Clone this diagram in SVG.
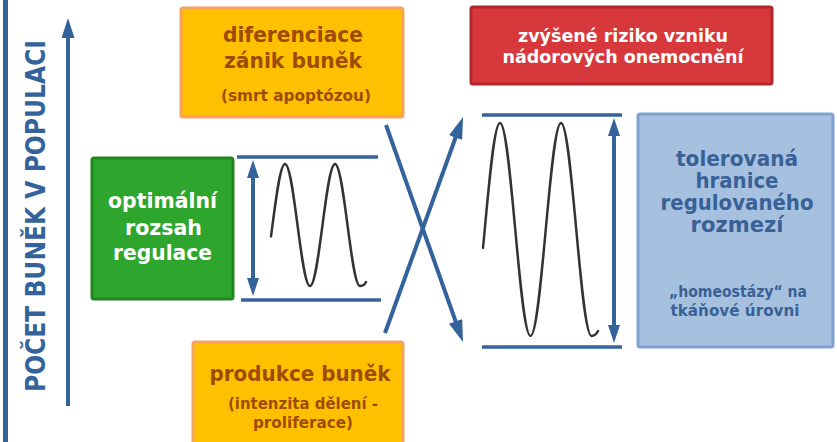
<svg xmlns="http://www.w3.org/2000/svg" width="837" height="442" viewBox="0 0 837 442">
  <style>
    text { font-family: "DejaVu Sans", "Noto Sans", sans-serif; font-weight: bold; text-anchor: middle; }
    .blue-line { stroke: #34639B; stroke-width: 4; fill: none; }
    .bound { stroke: #34639B; stroke-width: 3.5; fill: none; }
    .wave { stroke: #333333; stroke-width: 2.5; fill: none; stroke-linecap: round; }
    .orange { fill: #FFC000; stroke: #F7A25E; stroke-width: 3; }
    .orange-t { fill: #9E4C04; }
    .green { fill: #2EA62E; stroke: #22861F; stroke-width: 3; }
    .red { fill: #D7383B; stroke: #B1282C; stroke-width: 3; }
    .lightblue { fill: #A6C0E0; stroke: #7FA2D2; stroke-width: 3; }
    .blue-t { fill: #3A6195; }
    .white-t { fill: #FFFFFF; }
  </style>
  <defs>
    <marker id="head-axis" markerUnits="userSpaceOnUse" markerWidth="20" markerHeight="13" refX="13" refY="6.5" orient="auto-start-reverse">
      <path d="M0,0 L20,6.5 L0,13 z" fill="#34639B"/>
    </marker>
    <marker id="head-range" markerUnits="userSpaceOnUse" markerWidth="18" markerHeight="12" refX="12" refY="6" orient="auto-start-reverse">
      <path d="M0,0 L18,6 L0,12 z" fill="#34639B"/>
    </marker>
    <marker id="head-cross" markerUnits="userSpaceOnUse" markerWidth="22" markerHeight="14" refX="14" refY="7" orient="auto-start-reverse">
      <path d="M0,0 L22,7 L0,14 z" fill="#34639B"/>
    </marker>
  </defs>

  <!-- left edge bar -->
  <rect x="3" y="0" width="5" height="442" fill="#34639B"/>

  <!-- vertical axis -->
  <g id="axis">
    <line class="blue-line" x1="68" y1="406" x2="68" y2="25" marker-end="url(#head-axis)"/>
    <text transform="translate(45,216) rotate(-90)" font-size="26" fill="#34639B" textLength="352" lengthAdjust="spacingAndGlyphs">POČET BUNĚK V POPULACI</text>
  </g>

  <!-- optimal regulation range with oscillation -->
  <g id="range-optimal">
    <line class="bound" x1="237" y1="157" x2="378" y2="157"/>
    <line class="bound" x1="241" y1="300" x2="381" y2="300"/>
    <line class="blue-line" x1="253" y1="166" x2="253" y2="290" marker-start="url(#head-range)" marker-end="url(#head-range)"/>
    <path class="wave" d="M271,236.4 L272.5,225 C276.58,193.75 280.48,164 285,164 C289.52,164 293.42,193.75 297.5,225 C301.58,256.25 305.48,286 310,286 C314.52,286 318.42,256.25 322.5,225 C326.58,193.75 330.48,164 335,164 C339.52,164 343.42,193.75 347.5,225 C351.58,256.25 355.48,286 360,286 C362.5,286 364.5,285 366,282"/>
  </g>

  <!-- tolerated range with larger oscillation -->
  <g id="range-tolerated">
    <line class="bound" x1="482" y1="115" x2="622" y2="115"/>
    <line class="bound" x1="482" y1="347" x2="622" y2="347"/>
    <line class="blue-line" x1="614" y1="124" x2="614" y2="337" marker-start="url(#head-range)" marker-end="url(#head-range)"/>
    <path class="wave" d="M483,248 L484.75,229.5 C489.72,174.94 494.48,123 500,123 C505.52,123 510.28,174.94 515.25,229.5 C520.22,284.06 524.98,336 530.5,336 C536.02,336 540.78,284.06 545.75,229.5 C550.72,174.94 555.48,123 561,123 C566.52,123 571.28,174.94 576.25,229.5 C581.22,284.06 585.98,336 591.5,336 C594,336 596,335 598,331"/>
  </g>

  <!-- crossing arrows -->
  <g id="connectors">
    <line class="blue-line" x1="386" y1="125" x2="460.3" y2="334.5" marker-end="url(#head-cross)"/>
    <line class="blue-line" x1="385" y1="333" x2="460.3" y2="124.5" marker-end="url(#head-cross)"/>
  </g>

  <g id="node-diferenciace">
    <rect class="orange" x="181" y="8" width="222" height="109" rx="2"/>
    <text class="orange-t" x="293" y="42" font-size="22" textLength="140" lengthAdjust="spacingAndGlyphs">diferenciace</text>
    <text class="orange-t" x="293" y="68" font-size="22" textLength="138" lengthAdjust="spacingAndGlyphs">zánik buněk</text>
    <text class="orange-t" x="296" y="101" font-size="16" textLength="150" lengthAdjust="spacingAndGlyphs">(smrt apoptózou)</text>
  </g>

  <g id="node-produkce">
    <rect class="orange" x="193" y="342" width="210" height="112" rx="2"/>
    <text class="orange-t" x="300" y="381" font-size="22" textLength="181" lengthAdjust="spacingAndGlyphs">produkce buněk</text>
    <text class="orange-t" x="303" y="409" font-size="16" textLength="150" lengthAdjust="spacingAndGlyphs">(intenzita dělení -</text>
    <text class="orange-t" x="303" y="428" font-size="15.5" textLength="100" lengthAdjust="spacingAndGlyphs">proliferace)</text>
  </g>

  <g id="node-optimalni">
    <rect class="green" x="92" y="158" width="141" height="141" rx="2"/>
    <text class="white-t" x="162.5" y="208" font-size="21" textLength="109" lengthAdjust="spacingAndGlyphs">optimální</text>
    <text class="white-t" x="163.5" y="235" font-size="21" textLength="77" lengthAdjust="spacingAndGlyphs">rozsah</text>
    <text class="white-t" x="162.5" y="260" font-size="21" textLength="99" lengthAdjust="spacingAndGlyphs">regulace</text>
  </g>

  <g id="node-riziko">
    <rect class="red" x="471" y="7" width="301" height="77" rx="2"/>
    <text class="white-t" x="623" y="42" font-size="18.5" textLength="210" lengthAdjust="spacingAndGlyphs">zvýšené riziko vzniku</text>
    <text class="white-t" x="623" y="63" font-size="18.5" textLength="241" lengthAdjust="spacingAndGlyphs">nádorových onemocnění</text>
  </g>

  <g id="node-tolerovana">
    <rect class="lightblue" x="638" y="114" width="195" height="233" rx="2"/>
    <text class="blue-t" x="737" y="166" font-size="21" textLength="122" lengthAdjust="spacingAndGlyphs">tolerovaná</text>
    <text class="blue-t" x="737" y="188" font-size="21" textLength="83" lengthAdjust="spacingAndGlyphs">hranice</text>
    <text class="blue-t" x="737" y="210" font-size="21" textLength="153" lengthAdjust="spacingAndGlyphs">regulovaného</text>
    <text class="blue-t" x="737" y="232" font-size="21" textLength="93" lengthAdjust="spacingAndGlyphs">rozmezí</text>
    <text class="blue-t" x="738" y="297" font-size="15" textLength="138" lengthAdjust="spacingAndGlyphs">„homeostázy“ na</text>
    <text class="blue-t" x="735" y="316" font-size="15" textLength="129" lengthAdjust="spacingAndGlyphs">tkáňové úrovni</text>
  </g>
</svg>
